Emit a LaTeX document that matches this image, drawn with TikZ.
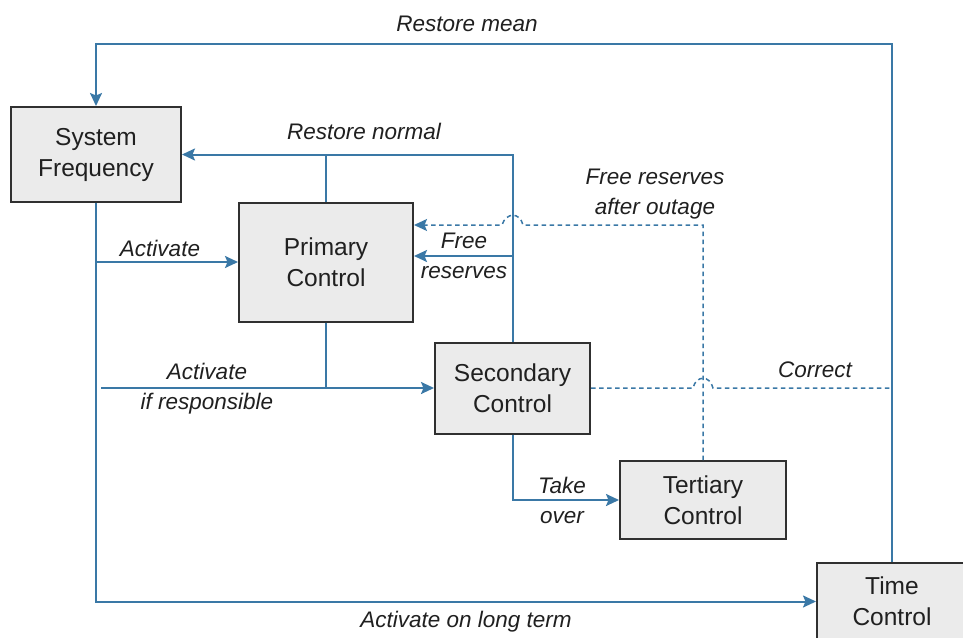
\documentclass[tikz,border=0pt]{standalone}
\usepackage{fontspec}
\setmainfont{Liberation Sans}
\usetikzlibrary{arrows.meta}
\definecolor{lineblue}{HTML}{3A78A6}
\definecolor{boxfill}{HTML}{EBEBEB}
\definecolor{boxline}{HTML}{303030}
\definecolor{txt}{HTML}{202020}
\tikzset{
  block/.style={draw=boxline, line width=2pt, fill=boxfill, align=center, text=txt,
    font=\fontsize{24.5}{31}\selectfont, inner sep=0pt},
  conn/.style={draw=lineblue, line width=2pt},
  dconn/.style={draw=lineblue, line width=1.5pt, dash pattern=on 4.5pt off 3.5pt},
  tip/.style={-{Stealth[length=13pt,width=12pt,inset=2.5pt]}},
  lbl/.style={text=txt, align=center, inner sep=0pt, font=\fontsize{22.5}{30}\selectfont\itshape}
}
\begin{document}
\begin{tikzpicture}[x=1pt,y=-1pt]
\clip (0,0) rectangle (963,637);
\fill[white] (0,0) rectangle (963,637);
% boxes
\node[block, minimum width=170pt, minimum height=95pt] (sf) at (96,154.5) {System\\Frequency};
\node[block, minimum width=174pt, minimum height=119pt] (pc) at (326,262) {Primary\\Control};
\node[block, minimum width=155pt, minimum height=91pt] (sc) at (512.5,388) {Secondary\\Control};
\node[block, minimum width=166pt, minimum height=78pt] (tc) at (703,500) {Tertiary\\Control};
\node[block, minimum width=150pt, minimum height=77pt] (time) at (892,601.5) {Time\\Control};
% coordinates
\coordinate (top) at (500,44);
\coordinate (air) at (101,388);
\coordinate (fr) at (512.5,256);
\coordinate (dtop) at (703,225);
\coordinate (cor) at (892,388);
% Restore mean
\draw[conn,tip] (time.north) |- (top) -| (sf.north);
% Activate on long term
\draw[conn,tip] (sf.south) |- (time.west);
% Activate
\draw[conn,tip] (sf.south |- pc.west) -- (pc.west);
% Activate if responsible
\draw[conn,tip] (air) -- (sc.west);
\draw[conn] (pc.south) -- (pc.south |- sc.west);
% Restore normal
\draw[conn,tip] (sc.north) |- (sf.east);
\draw[conn] (pc.north) -- (pc.north |- sf.east);
% Free reserves
\draw[conn,tip] (fr) -- (pc.east |- fr);
% Take over
\draw[conn,tip] (sc.south) |- (tc.west);
% Free reserves after outage (dashed)
\draw[dconn,tip] (tc.north) -- (dtop) -- (523,225) .. controls (520,212) and (506,212) .. (502,225) -- (pc.east |- dtop);
% Correct (dashed)
\draw[dconn] (sc.east) -- (693,388) .. controls (696,375) and (710,375) .. (713,388) -- (cor);
% labels
\node[lbl] (l1) at (467,24) {Restore mean};
\node[lbl] (l2) at (364,131) {Restore normal};
\node[lbl] (l3) at (160,248) {Activate};
\node[lbl] (l4) at (464,256) {Free\\reserves};
\node[lbl] (l5) at (655,194) {Free reserves\\after outage};
\node[lbl] (l6) at (207,389) {Activate\\if responsible};
\node[lbl] (l7) at (815,370) {Correct};
\node[lbl] (l8) at (562,500) {Take\\over};
\node[lbl] (l9) at (466,622) {Activate on long term};
\end{tikzpicture}
\end{document}
